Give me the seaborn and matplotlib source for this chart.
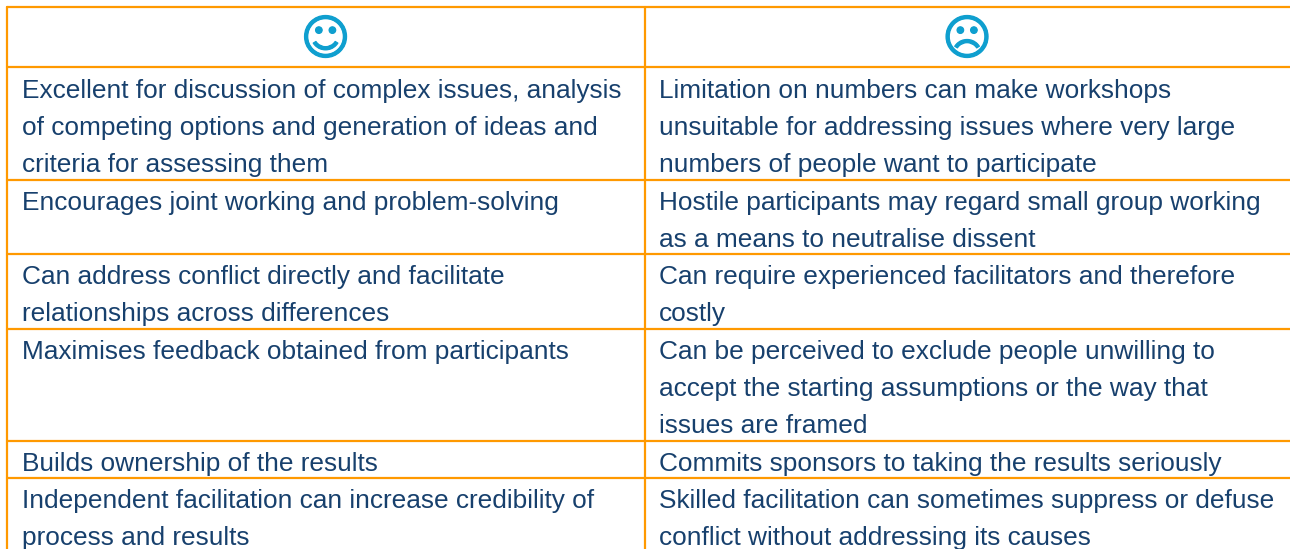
import matplotlib
matplotlib.use("Agg")
import matplotlib.pyplot as plt
import matplotlib.patheffects as pe
import seaborn as sns

# table content
header_icons = ["\u263a", "\u2639"]
left_rows = [
    ["Excellent for discussion of complex issues, analysis",
     "of competing options and generation of ideas and",
     "criteria for assessing them"],
    ["Encourages joint working and problem-solving"],
    ["Can address conflict directly and facilitate",
     "relationships across differences"],
    ["Maximises feedback obtained from participants"],
    ["Builds ownership of the results"],
    ["Independent facilitation can increase credibility of",
     "process and results"],
]
right_rows = [
    ["Limitation on numbers can make workshops",
     "unsuitable for addressing issues where very large",
     "numbers of people want to participate"],
    ["Hostile participants may regard small group working",
     "as a means to neutralise dissent"],
    ["Can require experienced facilitators and therefore",
     "costly"],
    ["Can be perceived to exclude people unwilling to",
     "accept the starting assumptions or the way that",
     "issues are framed"],
    ["Commits sponsors to taking the results seriously"],
    ["Skilled facilitation can sometimes suppress or defuse",
     "conflict without addressing its causes"],
]

rule_y = [7, 67, 180, 254, 329, 441, 478]
rule_x = [7, 645]
orange = "#FF9900"
navy = "#17406D"
icon_blue = "#0F9FCF"

sns.set_theme(style="white")
plt.rcParams["font.family"] = ["Liberation Sans", "DejaVu Sans"]

fig, ax = plt.subplots(figsize=(12.9, 5.49), dpi=100)
ax.set_position([0, 0, 1, 1])

# rules
for y in rule_y:
    sns.lineplot(x=[7, 1290], y=[y, y], color=orange, lw=1.6, ax=ax,
                 estimator=None, sort=False)
for x in rule_x:
    sns.lineplot(x=[x, x], y=[7, 549], color=orange, lw=1.6, ax=ax,
                 estimator=None, sort=False)

ax.set_xlim(0, 1290)
ax.set_ylim(549, 0)
ax.axis("off")

# header icons
thick = [pe.withStroke(linewidth=0.9, foreground=icon_blue)]
ax.text(325.5, 35.5, header_icons[0], family="DejaVu Sans", color=icon_blue,
        fontsize=34.5, ha="center", va="center_baseline", path_effects=thick)
ax.text(967, 35.5, header_icons[1], family="DejaVu Sans", color=icon_blue,
        fontsize=34.5, ha="center", va="center_baseline", path_effects=thick)

# body text, one baseline per line
first_baselines = [98, 210, 284, 359, 471, 508]
line_gap = 37
for col_x, rows in [(22, left_rows), (659, right_rows)]:
    for base, lines in zip(first_baselines, rows):
        for i, line in enumerate(lines):
            ax.text(col_x, base + i * line_gap, line, color=navy,
                    fontsize=18.9, ha="left", va="baseline", clip_on=True)

fig.savefig("out.png", dpi=100)
